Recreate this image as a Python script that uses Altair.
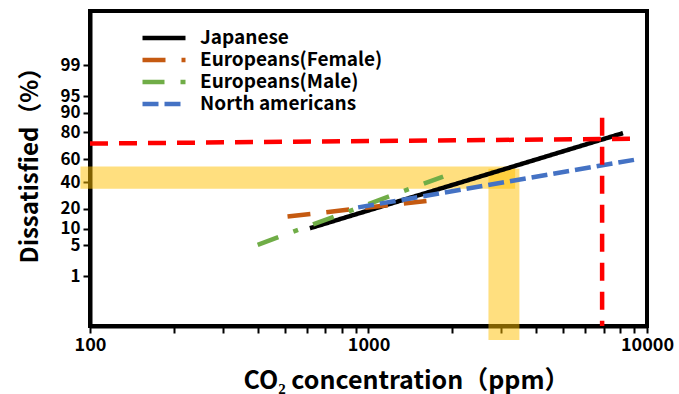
import altair as alt
import pandas as pd
from statistics import NormalDist

ND = NormalDist()


def zval(p):
    return ND.inv_cdf(p / 100.0)


# ---------------- data ----------------
series = ["Japanese", "Europeans(Female)", "Europeans(Male)", "North americans"]
series_colors = ["#000000", "#C55A11", "#70AD47", "#4472C4"]
series_dash = [[1, 0], [23, 16], [22, 16, 5, 16], [16, 6]]

jp_ppm = [616, 8200]
jp_pct = [10.2, 79.6]
ef_ppm = [512, 1615]
ef_pct = [15.6, 25.2]
em_ppm = [400, 1854]
em_pct = [5.1, 44.8]
na_ppm = [918, 8980]
na_pct = [20.9, 59.4]

ref_h_ppm = [100, 9036]
ref_h_pct = [72.5, 75.9]
ref_v_ppm = [6900]
ref_v_pct_top = [87.8]

band_h_ppm = [92.4, 3362]
band_h_pct = [34.4, 53.6]
band_v_ppm = [2696, 3482]
band_v_pct = [0.0094, 51.6]

y_ticks_pct = [1, 5, 10, 20, 40, 60, 80, 90, 95, 99]
x_ticks = [100, 200, 300, 400, 500, 600, 700, 800, 900,
           1000, 2000, 3000, 4000, 5000, 6000, 7000, 8000, 9000, 10000]
x_labels = [100, 1000, 10000]
x_domain = [100, 10000]
y_domain_z = [-3.426, 3.521]

FONT = "Noto Sans CJK JP"

# ---------------- tables ----------------
rows = []
for name, xs, ps in zip(series, [jp_ppm, ef_ppm, em_ppm, na_ppm],
                        [jp_pct, ef_pct, em_pct, na_pct]):
    for i, (xv, pv) in enumerate(zip(xs, ps)):
        rows.append({"series": name, "ppm": xv, "z": zval(pv), "o": i})
lines_df = pd.DataFrame(rows)

ref_h_df = pd.DataFrame({"ppm": ref_h_ppm, "z": [zval(p) for p in ref_h_pct]})
ref_v_df = pd.DataFrame({"ppm": ref_v_ppm, "z": [zval(p) for p in ref_v_pct_top],
                         "z2": [y_domain_z[0]]})
bands_df = pd.DataFrame({
    "x": [band_h_ppm[0], band_v_ppm[0]],
    "x2": [band_h_ppm[1], band_v_ppm[1]],
    "y": [zval(band_h_pct[0]), zval(band_v_pct[0])],
    "y2": [zval(band_h_pct[1]), zval(band_v_pct[1])],
})

y_tick_z = [zval(p) for p in y_ticks_pct]
expr = "''"
for p, zz in zip(reversed(y_ticks_pct), reversed(y_tick_z)):
    expr = f"abs(datum.value - ({zz:.6f})) < 0.001 ? '{p}' : ({expr})"
y_label_expr = expr
x_label_expr = " || ".join(f"datum.value == {v}" for v in x_labels)
x_label_expr = f"({x_label_expr}) ? format(datum.value, 'd') : ''"

xscale = alt.Scale(type="log", domain=x_domain, nice=False)
yscale = alt.Scale(domain=y_domain_z, nice=False, zero=False)

x_axis = alt.Axis(values=x_ticks, labelExpr=x_label_expr,
                  title="CO₂ concentration（ppm）",
                  titleX=316, titleY=62, titleAlign="center", titleBaseline="alphabetic",
                  titleFontSize=25, labelFontSize=18,
                  labelOverlap=False, labelFlush=False)
y_axis = alt.Axis(values=y_tick_z, labelExpr=y_label_expr,
                  title="Dissatisfied（%）",
                  titleX=-53, titleY=148, titleAlign="center", titleBaseline="alphabetic",
                  labelFontSize=17, labelOverlap=False)

bands = alt.Chart(bands_df).mark_rect(color="#FFC000", opacity=0.5).encode(
    x=alt.X("x:Q", scale=xscale, axis=x_axis),
    x2="x2:Q",
    y=alt.Y("y:Q", scale=yscale, axis=y_axis),
    y2="y2:Q",
)

lines = alt.Chart(lines_df).mark_line(strokeWidth=4.5, strokeCap="butt").encode(
    x=alt.X("ppm:Q", scale=xscale, axis=x_axis),
    y=alt.Y("z:Q", scale=yscale, axis=y_axis),
    order="o:Q",
    color=alt.Color("series:N", scale=alt.Scale(domain=series, range=series_colors),
                    legend=alt.Legend(title=None)),
    strokeDash=alt.StrokeDash("series:N", scale=alt.Scale(domain=series, range=series_dash),
                              legend=alt.Legend(title=None)),
)

ref_h = alt.Chart(ref_h_df).mark_line(color="#FF0000", strokeWidth=4.5,
                                      strokeDash=[18, 11], strokeCap="butt").encode(
    x=alt.X("ppm:Q", scale=xscale, axis=x_axis),
    y=alt.Y("z:Q", scale=yscale, axis=y_axis),
)
ref_v = alt.Chart(ref_v_df).mark_rule(color="#FF0000", strokeWidth=4.5,
                                      strokeDash=[18, 11]).encode(
    x=alt.X("ppm:Q", scale=xscale, axis=x_axis),
    y=alt.Y("z:Q", scale=yscale, axis=y_axis),
    y2="z2:Q",
)

chart = alt.layer(bands, lines, ref_h, ref_v).properties(
    width=557, height=315,
    padding={"left": 90, "top": 11, "right": 32, "bottom": 68},
    autosize=alt.AutoSizeParams(type="none"),
    background="white",
).configure_view(
    stroke="black", strokeWidth=4,
).configure_axis(
    grid=False,
    domainColor="black", domainWidth=4,
    tickColor="black", tickWidth=2, tickSize=7,
    labelFont=FONT, labelFontWeight="bold", labelColor="black",
    labelPadding=3, labelOverlap=False,
    titleFont=FONT, titleFontSize=24, titleFontWeight="bold", titleColor="black",
).configure_legend(
    orient="none", legendX=50, legendY=16,
    symbolType="stroke", symbolSize=1849, symbolStrokeWidth=4.5,
    labelFont=FONT, labelFontSize=19, labelFontWeight="bold", labelColor="black",
    labelOffset=12, clipHeight=22, rowPadding=0, padding=0, labelLimit=400,
)

chart.save("out.html", embed_options={"renderer": "svg", "actions": False})
